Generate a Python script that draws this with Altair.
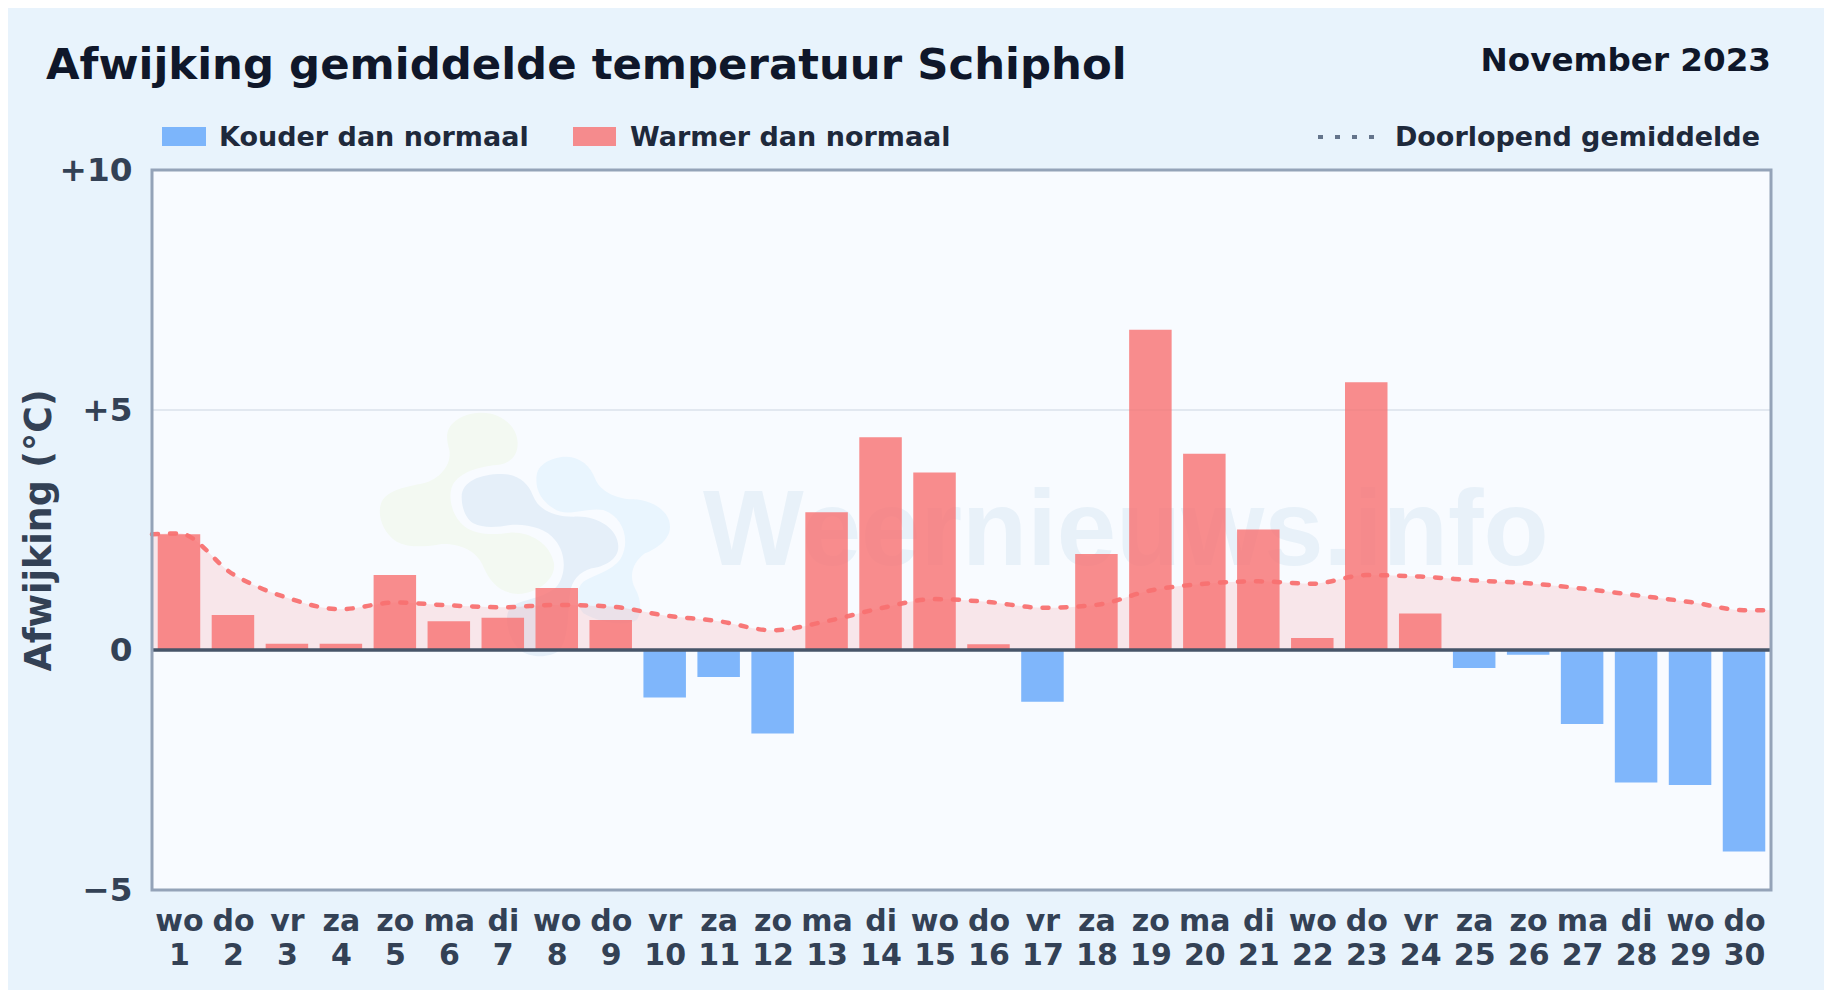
import json
import altair as alt
import pandas as pd

days = list(range(1, 31))
weekdays = ["wo","do","vr","za","zo","ma","di","wo","do","vr","za","zo","ma","di","wo","do","vr","za","zo","ma","di","wo","do","vr","za","zo","ma","di","wo","do"]
deviation = [2.41,0.73,0.13,0.13,1.56,0.60,0.67,1.29,0.625,-0.99,-0.56,-1.74,2.87,4.43,3.70,0.12,-1.08,2.00,6.67,4.09,2.51,0.25,5.58,0.76,-0.375,-0.10,-1.54,-2.76,-2.81,-4.20]
avg_x = [0.5] + days + [30.5]
avg_y = [2.41,2.43,1.58,1.09,0.85,0.99,0.93,0.89,0.94,0.905,0.72,0.60,0.41,0.60,0.87,1.06,1.00,0.88,0.94,1.24,1.38,1.43,1.38,1.56,1.53,1.45,1.39,1.28,1.14,1.00,0.83,0.83]

BLUE = "#60a5fa"
RED = "#f87171"
FONT = "DejaVu Sans"

bars_df = pd.DataFrame({"day": days, "value": deviation,
                        "kind": ["Warmer" if v >= 0 else "Kouder" for v in deviation]})
avg_df = pd.DataFrame({"day": avg_x, "value": avg_y})

x_scale = alt.Scale(domain=[0.5, 30.5], nice=False, zero=False, padding=0)
y_scale = alt.Scale(domain=[-5, 10], nice=False, zero=False)
x_axis = alt.Axis(values=days, title=None, grid=False, domain=False, ticks=False,
                  labelFont=FONT, labelFontWeight="bold", labelFontSize=30, labelColor="#334155",
                  labelPadding=16, labelFlush=False, labelOverlap=False, labelAngle=0, labelLineHeight=34,
                  labelExpr="[" + json.dumps(weekdays) + "[datum.value-1], datum.label]")
y_axis = alt.Axis(values=[-5, 0, 5, 10], title="Afwijking (°C)", titleFont=FONT, titleFontWeight="bold",
                  titleFontSize=36.4, titleColor="#334155", titlePadding=1,
                  grid=False, domain=False, ticks=False,
                  labelFont=FONT, labelFontWeight="bold", labelFontSize=32.7, labelColor="#334155", labelPadding=20,
                  labelFlush=False, labelExpr="datum.value > 0 ? '+' + datum.value : (datum.value < 0 ? '−' + abs(datum.value) : '0')")
X = alt.X("day:Q", scale=x_scale, axis=x_axis)
Y = alt.Y("value:Q", scale=y_scale, axis=y_axis)

def blob(path, color):
    return alt.Chart(pd.DataFrame({"p": [0]})).mark_point(shape=path, size=4/9, filled=True, fill=color, opacity=1, strokeWidth=0).encode(
        x=alt.value(218), y=alt.value(230))

green = "M232,100 C240,60 290,38 335,38 C395,38 443,80 443,130 C443,165 425,190 380,195 C330,200 270,215 248,255 C232,290 245,350 285,380 C320,405 370,405 420,398 C480,395 540,430 552,490 C558,540 500,580 445,582 C390,580 360,545 340,500 C325,460 280,430 215,432 C170,440 120,445 80,425 C35,395 20,340 35,305 C55,270 110,260 160,250 C215,235 245,190 238,150 C232,130 230,115 232,100 Z"
navy = "M275,290 C275,245 330,222 395,222 C445,222 475,250 488,285 C505,330 550,350 610,350 C680,345 745,385 745,440 C745,480 700,500 665,505 C630,515 605,540 600,580 C592,630 600,700 570,750 C540,775 480,775 450,750 C415,720 400,650 420,625 C440,600 510,600 555,565 C590,530 590,460 555,420 C530,385 470,370 420,375 C380,382 340,385 310,370 C285,355 275,320 275,290 Z"
sky = "M500,225 C505,190 550,170 590,170 C630,172 660,195 675,235 C690,275 740,298 790,298 C850,300 900,335 900,380 C900,420 860,445 825,460 C790,485 775,525 795,565 C815,600 815,640 800,660 C770,680 690,670 640,640 C615,610 615,570 640,545 C680,520 735,510 755,470 C780,420 760,350 700,330 C650,320 590,355 550,325 C510,300 495,265 500,225 Z"

watermark = alt.Chart(pd.DataFrame({"t": ["Weernieuws.info"]})).mark_text(
    font="Liberation Sans", fontWeight="bold", fontSize=106.7, color="#e8f1f9", align="left", baseline="alphabetic"
).encode(x=alt.value(551), y=alt.value(395), text="t:N")

grid_rule = alt.Chart(pd.DataFrame({"value": [5]})).mark_rule(color="#e2e8f0", strokeWidth=2).encode(y=Y)

area = alt.Chart(avg_df).mark_area(color=RED, opacity=0.15, interpolate="monotone").encode(
    x=X, y=Y, y2=alt.datum(0))

bars = alt.Chart(bars_df).mark_bar(size=42.5, opacity=0.8).encode(
    x=X, y=Y, y2=alt.datum(0),
    color=alt.Color("kind:N", scale=alt.Scale(domain=["Kouder", "Warmer"], range=[BLUE, RED]), legend=None))

line = alt.Chart(avg_df).mark_line(color=RED, strokeWidth=4.5, strokeDash=[6, 12], strokeCap="round",
                                   opacity=0.95, interpolate="monotone").encode(x=X, y=Y)

zero_rule = alt.Chart(pd.DataFrame({"value": [0]})).mark_rule(color="#475569", strokeWidth=3.4).encode(y=Y)

frame = alt.Chart(pd.DataFrame({"p": [0]})).mark_rect(fillOpacity=0, stroke="#94a3b8", strokeWidth=3).encode(
    x=alt.value(0), x2=alt.value(1619), y=alt.value(0), y2=alt.value(720))

def label(text, x, y, size, color, align="left"):
    return alt.Chart(pd.DataFrame({"t": [text]})).mark_text(
        font=FONT, fontWeight="bold", fontSize=size, color=color, align=align, baseline="alphabetic"
    ).encode(x=alt.value(x), y=alt.value(y), text="t:N")

def swatch(x, x2, color):
    return alt.Chart(pd.DataFrame({"p": [0]})).mark_bar(color=color, opacity=0.8).encode(
        x=alt.value(x), x2=alt.value(x2), y=alt.value(-43), y2=alt.value(-24))

legend_dots = alt.Chart(pd.DataFrame({"p": [0]})).mark_rule(color="#64748b", strokeWidth=4, strokeDash=[5, 12]).encode(
    x=alt.value(1166), x2=alt.value(1224), y=alt.value(-33))

chart = alt.layer(
    blob(green, "#f3f9f2"), blob(navy, "#e5eff9"), blob(sky, "#e9f5fe"), watermark, grid_rule,
    area, bars, line, zero_rule, frame,
    label("Afwijking gemiddelde temperatuur Schiphol", -106, -91, 43.4, "#0f172a"),
    label("November 2023", 1619, -99, 32.6, "#0f172a", "right"),
    swatch(10, 54, BLUE), label("Kouder dan normaal", 67, -24, 27, "#1e293b"),
    swatch(421, 464, RED), label("Warmer dan normaal", 478, -24, 27, "#1e293b"),
    legend_dots, label("Doorlopend gemiddelde", 1608, -24, 27, "#1e293b", "right"),
).resolve_scale(color="independent").properties(
    width=1619, height=720, background="#e8f3fc",
    padding={"left": 144, "top": 162, "right": 53, "bottom": 100},
    autosize=alt.AutoSizeParams(type="none"),
).configure_view(fill="#f8fbff", stroke=None)

chart.save("out.html", embed_options={"renderer": "svg", "actions": False})
